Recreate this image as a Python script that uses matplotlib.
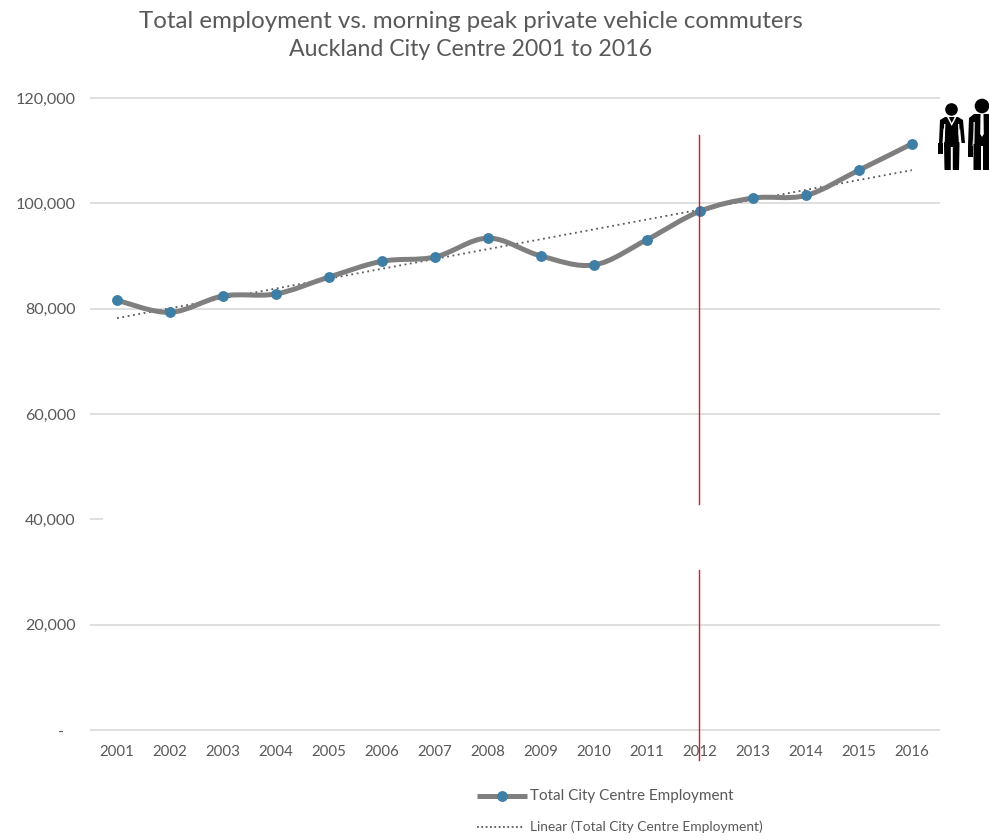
import numpy as np
import matplotlib
matplotlib.use("Agg")
import matplotlib.pyplot as plt
from matplotlib.lines import Line2D
from matplotlib.patches import Circle, PathPatch, Polygon, Rectangle
from matplotlib.path import Path
from matplotlib.transforms import Affine2D

plt.rcParams['font.family'] = ['Lato', 'DejaVu Sans']

years = [2001, 2002, 2003, 2004, 2005, 2006, 2007, 2008,
         2009, 2010, 2011, 2012, 2013, 2014, 2015, 2016]
employment = [81600, 79300, 82400, 82800, 86000, 89000, 89800, 93400,
              90000, 88300, 93100, 98500, 101000, 101500, 106300, 111300]
trend_years = [2001, 2016]
trend_values = [78200, 106300]
y_ticks = [0, 20000, 40000, 60000, 80000, 100000, 120000]
y_labels = ['-   ', '20,000', '40,000', '60,000', '80,000', '100,000', '120,000']
marker_year = 2012
marker_spans = [(-5700, 30400), (43000, 113000)]
title_lines = ['Total employment vs. morning peak private vehicle commuters',
               'Auckland City Centre 2001 to 2016']
legend_main = 'Total City Centre Employment'
legend_trend = 'Linear (Total City Centre Employment)'

W, H = 989, 840
TEXT = '#595959'
GRID = '#dcdcdc'
LINE = '#7f7f7f'
DOT = '#3f7fa6'
RED = '#e0161e'

fig = plt.figure(figsize=(W / 100, H / 100), dpi=100)
ax = fig.add_axes([90.5 / W, 1 - 730 / H, 849.5 / W, 632 / H])
ax.set_xlim(2000.5, 2016.53)
ax.set_ylim(0, 120000)
for s in ax.spines.values():
    s.set_visible(False)


def smooth_path(xs, ys):
    # same kind of smoothing a spreadsheet line gets, bezier through each point
    xs, ys = np.array(xs, float), np.array(ys, float)
    verts = [(xs[0], ys[0])]
    codes = [Path.MOVETO]
    n = len(xs)
    for i in range(n - 1):
        a, b = max(i - 1, 0), min(i + 2, n - 1)
        verts.append((xs[i] + (xs[i + 1] - xs[a]) / 6, ys[i] + (ys[i + 1] - ys[a]) / 6))
        verts.append((xs[i + 1] - (xs[b] - xs[i]) / 6, ys[i + 1] - (ys[b] - ys[i]) / 6))
        verts.append((xs[i + 1], ys[i + 1]))
        codes += [Path.CURVE4] * 3
    return Path(verts, codes)


# horizontal gridlines, the 40,000 one is only a stub
for t in y_ticks:
    x_end = 2000.73 if t == 40000 else 2016.53
    ax.plot([2000.5, x_end], [t, t], color=GRID, lw=1.3, zorder=1, clip_on=False,
            solid_capstyle='butt')

ax.plot(trend_years, trend_values, color=TEXT, lw=1.3, ls=(0, (1, 2)), zorder=3)
ax.add_patch(PathPatch(smooth_path(years, employment), fc='none', ec=LINE, lw=3.6,
                       zorder=4, capstyle='round'))
ax.plot(years, employment, ls='none', marker='o', ms=6.8, mfc=DOT, mec=DOT, zorder=5)

for lo, hi in marker_spans:
    ax.plot([marker_year - 0.02, marker_year - 0.02], [lo, hi], color=RED, lw=1,
            zorder=6, clip_on=False)

ax.set_xticks(years)
ax.set_xticklabels([str(y) for y in years])
ax.set_yticks(y_ticks)
ax.set_yticklabels(y_labels)
ax.tick_params(axis='both', length=0, labelcolor=TEXT)
ax.tick_params(axis='x', pad=11, labelsize=10.8)
ax.tick_params(axis='y', pad=10.5, labelsize=11.6)

fig.text(470.5 / W, 1 - 21 / H, title_lines[0], ha='center', va='center', color=TEXT, fontsize=17.35)
fig.text(470.5 / W, 1 - 50 / H, title_lines[1], ha='center', va='center', color=TEXT, fontsize=16.65)

# legend laid out by hand, its two rows have different handle lengths
to_px = Affine2D().scale(1, -1).translate(0, H)
fig.add_artist(Line2D([477, 527], [796, 796], color=LINE, lw=3.6, transform=to_px,
                      solid_capstyle='butt'))
fig.add_artist(Line2D([502], [796], ls='none', marker='o', ms=6.8, mfc=DOT, mec=DOT, transform=to_px))
fig.add_artist(Line2D([477, 523], [827, 827], color=TEXT, lw=1.3, ls=(0, (1, 1.4)), transform=to_px))
fig.text(530 / W, 1 - 796 / H, legend_main, ha='left', va='center', color=TEXT, fontsize=11)
fig.text(530 / W, 1 - 827 / H, legend_trend, ha='left', va='center', color=TEXT, fontsize=9.95)


# two office workers next to the top of the chart, drawn in pixel positions
def add_shape(patch):
    patch.set_transform(to_px)
    patch.set_clip_on(False)
    fig.add_artist(patch)


def woman():
    add_shape(Circle((951.5, 109.5), 6.3, fc='k', ec='none'))
    add_shape(Polygon([(945, 117), (958, 117), (963, 120), (965, 143), (961.5, 143), (960, 128),
                       (958.5, 132), (959.5, 144), (959, 170), (952.8, 170), (952.8, 147), (950.8, 147),
                       (950.8, 170), (944.5, 170), (944, 144), (945, 132), (943.5, 128), (942.5, 143),
                       (939, 143), (940, 120)], fc='k', ec='none'))
    # gaps between arms and body
    add_shape(Polygon([(944.2, 124), (945.4, 124), (944.6, 142), (943.2, 142)], fc='w', ec='none'))
    add_shape(Polygon([(958, 124), (959.2, 124), (960.2, 142), (958.8, 142)], fc='w', ec='none'))
    add_shape(Polygon([(947, 117), (956.5, 117), (951.7, 126)], fc='w', ec='none'))
    add_shape(Polygon([(948.8, 117), (954.7, 117), (951.7, 123)], fc='k', ec='none'))
    add_shape(Rectangle((937.5, 142.5), 5.5, 11, fc='k', ec='none'))


def man():
    add_shape(Circle((982, 106), 7.3, fc='k', ec='none'))
    add_shape(Polygon([(974, 114), (990, 114), (990, 170), (983, 170), (983, 146), (981, 146),
                       (981, 170), (973.5, 170), (973.5, 130), (972.5, 146), (968, 146), (969, 118)],
                      fc='k', ec='none'))
    add_shape(Polygon([(973.6, 122), (974.8, 122), (974.4, 144), (973.2, 144)], fc='w', ec='none'))
    add_shape(Polygon([(980.5, 114), (983.5, 114), (983.8, 134), (982, 137), (980.2, 134)],
                      fc='w', ec='none'))
    add_shape(Rectangle((967.5, 146), 5.5, 11, fc='k', ec='none'))


woman()
man()

fig.savefig('out.png', dpi=100)
